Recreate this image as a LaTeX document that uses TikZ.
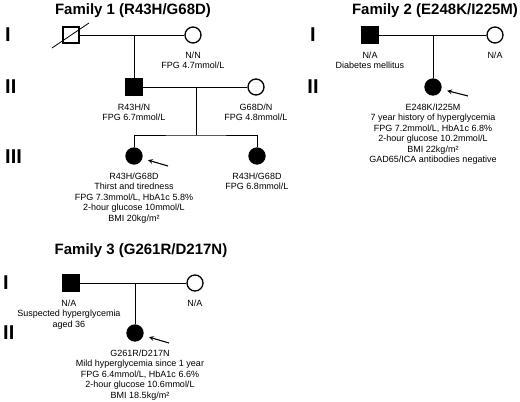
\documentclass[tikz,border=0pt]{standalone}
\usepackage{fontspec}
\setmainfont{Liberation Sans}
\usetikzlibrary{calc,positioning}
\usetikzlibrary{shapes,arrows}

\tikzset{
  male/.style={draw, rectangle, minimum size=16pt, inner sep=0pt, line width=1.3pt, fill=white},
  female/.style={draw, circle, minimum size=16pt, inner sep=0pt, line width=1.3pt, fill=white},
  affected/.style={fill=black},
  info/.style={font=\fontsize{9}{10.5}\selectfont, align=center, inner sep=0pt},
  gen/.style={font=\fontsize{20}{20}\selectfont\bfseries, inner sep=0pt},
  famtitle/.style={font=\fontsize{15}{15}\selectfont\bfseries, inner sep=0pt, anchor=base},
  link/.style={line width=0.8pt},
  proband/.style={line width=1.1pt, -stealth, shorten >=6pt},
}

\begin{document}
\begin{tikzpicture}[x=1pt, y=-1pt]
    \useasboundingbox (0,0) rectangle (520,402);
    % Family titles
    \node[famtitle] (t1) at (133,14) {Family 1 (R43H/G68D)};
    \node[famtitle] (t2) at (435,14) {Family 2 (E248K/I225M)};
    \node[famtitle] (t3) at (141,254) {Family 3 (G261R/D217N)};
    % Generation numbers
    \foreach \g/\y in {I/35, II/87, III/157} {
        \node[gen, anchor=west] (f1g\g) at (5,\y) {\g};
    }
    \foreach \g/\y in {I/35, II/87} {
        \node[gen] (f2g\g) at (313,\y) {\g};
    }
    \foreach \g/\y in {I/283, II/333} {
        \node[gen, anchor=west] (f3g\g) at (3,\y) {\g};
    }

    % Family 1
    \node[male] (f1I1) at (71,35) {};
    \draw[link] ($(f1I1)+(-19,13)$) -- ($(f1I1)+(18,-12)$);  % deceased
    \node[female] (f1I2) at (193,35) {};
    \node[male, affected] (f1II1) at (134,87) {};
    \node[female] (f1II2) at (256,87) {};
    \node[female, affected] (f1III1) at (134,156) {};
    \node[female, affected] (f1III2) at (257,156) {};
    \node[info, below=8pt of f1I2] (f1I2t) {N/N\\FPG 4.7mmol/L};
    \node[info, below=8pt of f1II1] (f1II1t) {R43H/N\\FPG 6.7mmol/L};
    \node[info, below=8pt of f1II2] (f1II2t) {G68D/N\\FPG 4.8mmol/L};
    \node[info, below=8pt of f1III1] (f1III1t) {R43H/G68D\\Thirst and tiredness\\FPG 7.3mmol/L, HbA1c 5.8\%\\2-hour glucose 10mmol/L\\BMI 20kg/m²};
    \node[info, below=8pt of f1III2] (f1III2t) {R43H/G68D\\FPG 6.8mmol/L};
    \draw[link] (f1I1) -- (f1I2);
    \coordinate (f1m1) at (f1II1 |- f1I1);
    \draw[link] (f1m1) -- (f1II1);
    \draw[link] (f1II1) -- (f1II2);
    \coordinate (f1m2) at (196,87);
    \coordinate (f1s) at (196,135);
    \draw[link] (f1m2) -- (f1s);
    \draw[link] (f1III1) |- (f1s) -| (f1III2);
    \coordinate (f1p) at ($(f1III1)+(34,10)$);
    \draw[proband] (f1p) -- (f1III1);

    % Family 2
    \node[male, affected] (f2I1) at (370,35) {};
    \node[female] (f2I2) at (495,35) {};
    \node[female, affected] (f2II1) at (433,87) {};
    \node[info, below=8pt of f2I1] (f2I1t) {N/A\\Diabetes mellitus};
    \node[info, below=8pt of f2I2] (f2I2t) {N/A};
    \node[info, below=8pt of f2II1] (f2II1t) {E248K/I225M\\7 year history of hyperglycemia\\FPG 7.2mmol/L, HbA1c 6.8\%\\2-hour glucose 10.2mmol/L\\BMI 22kg/m²\\GAD65/ICA antibodies negative};
    \draw[link] (f2I1) -- (f2I2);
    \coordinate (f2m) at (f2II1 |- f2I1);
    \draw[link] (f2m) -- (f2II1);
    \coordinate (f2p) at ($(f2II1)+(35,9)$);
    \draw[proband] (f2p) -- (f2II1);

    % Family 3
    \node[male, affected] (f3I1) at (71,283) {};
    \node[female] (f3I2) at (195,283) {};
    \node[female, affected] (f3II1) at (135,333) {};
    \node[info, below=8pt of f3I1, xshift=-2pt] (f3I1t) {N/A\\Suspected hyperglycemia\\aged 36};
    \node[info, below=8pt of f3I2] (f3I2t) {N/A};
    \node[info, below=8pt of f3II1, xshift=5pt] (f3II1t) {G261R/D217N\\Mild hyperglycemia since 1 year\\FPG 6.4mmol/L, HbA1c 6.6\%\\2-hour glucose 10.6mmol/L\\BMI 18.5kg/m²};
    \draw[link] (f3I1) -- (f3I2);
    \coordinate (f3m) at (f3II1 |- f3I1);
    \draw[link] (f3m) -- (f3II1);
    \coordinate (f3p) at ($(f3II1)+(34,10)$);
    \draw[proband] (f3p) -- (f3II1);
\end{tikzpicture}
\end{document}
